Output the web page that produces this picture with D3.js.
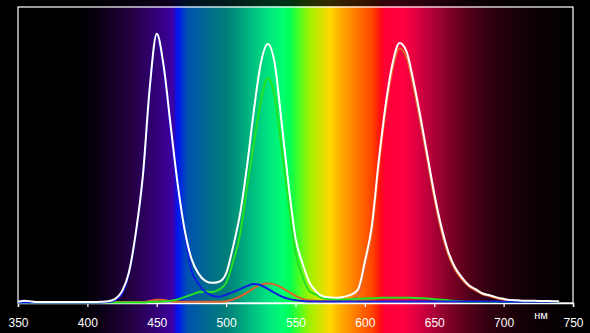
<!DOCTYPE html>
<meta charset="utf-8">
<script src="https://d3js.org/d3.v7.min.js"></script>
<style>
  body { margin: 0; background: #000; }
  svg { display: block; }
</style>
<div id="my_dataviz"></div>
<script>

// wavelength grid (nm)
var wavelengths = [350,355,360,365,370,375,380,385,390,395,400,405,410,415,420,425,430,435,440,445,
  450,455,460,465,470,475,480,485,490,495,500,505,510,515,520,525,530,535,540,545,
  550,555,560,565,570,575,580,585,590,595,600,605,610,615,620,625,630,635,640,645,
  650,655,660,665,670,675,680,685,690,695,700,705,710,715,720,725,730,735,740];

// total (white)
var totalValues = [0.4,0.8,0.5,0.3,0.3,0.3,0.3,0.3,0.3,0.3,0.3,0.3,0.4,0.6,1.4,4,10.5,24,43,73,
  91,80,60,40.5,25,15,10,7.5,6.8,7.2,10,19,30,46,65,81,87.5,81,61,40,
  22,13.5,7,3.8,2.2,1.9,1.8,2.1,2.8,4.5,14,26,48,67,81,87.8,85,75,63,50,
  37,26,17.5,12,8.6,6,4.6,3.2,2.6,1.9,1.4,1.0,0.9,0.8,0.8,0.7,0.7,0.6,0.5];

// blue channel
var blueValues = [0.2,0.2,0.2,0.2,0.2,0.2,0.2,0.2,0.2,0.2,0.2,0.2,0.2,0.3,1.0,3.2,10,23.5,42.5,72,
  90.5,79,59,38.5,23.5,11,6.5,3.7,2.5,2.1,2.8,3.7,4.7,5.7,6.4,6.0,4.8,3.4,2.2,1.4,
  0.9,0.7,0.5,0.5,0.5,0.5,0.5,0.5,0.5,0.5,0.5,0.5,0.5,0.5,0.5,0.5,0.5,0.5,0.5,0.5,
  0.5,0.5,0.5,0.5,0.5,0.5,0.5,0.5,0.5,0.5,0.4,0.4,0.4,0.4,0.4,0.4,0.4,0.4,0.4];

// green channel
var greenValues = [0.2,0.2,0.2,0.2,0.2,0.2,0.2,0.2,0.2,0.2,0.2,0.2,0.2,0.2,0.2,0.2,0.2,0.2,0.2,0.3,
  0.4,0.5,0.8,1.2,2.0,2.8,3.6,3.9,3.7,4.6,6.8,14,23,39,54,68,76,70,52,34,
  17,9,4,2.8,1.6,1.3,1.2,1.2,1.3,1.4,1.5,1.6,1.7,1.8,1.8,1.8,1.8,1.7,1.6,1.5,
  1.3,1.1,0.9,0.7,0.5,0.3,0.3,0.3,0.3,0.3,0.3,0.3,0.3,0.3,0.3,0.3,0.3,0.3,0.3];

// red channel
var redValues = [0.3,0.3,0.3,0.3,0.3,0.3,0.3,0.3,0.3,0.3,0.3,0.3,0.3,0.3,0.3,0.3,0.3,0.3,0.3,0.7,
  1.1,1.0,0.6,0.4,0.4,0.4,0.4,0.4,0.4,0.4,0.6,1.2,2.2,3.5,5.0,6.2,6.6,6.3,5.2,3.8,
  2.4,1.4,0.9,0.7,0.6,0.6,0.6,0.8,1.2,2.6,12,24,46,65,79,86,83,73,61,48.5,
  35.5,24.5,16.5,11.2,8.0,5.6,4.2,2.9,2.3,1.6,1.1,0.7,0.5,0.4,0.4,0.4,0.4,0.4,0.4];

var tickValues = [350,400,450,500,550,600,650,700,750];
var unitLabel = "нм";

// background spectrum stops
var spectrumNm = [395,409,423,433,445,457,462,464,465.5,472,486,501,515,529,541,546,553,560,570,575,
  582,594,606,611,614.5,627.5,637.5,649,661,676,690,710,728,748];
var spectrumColor = ["#000000","#0a0015","#1a0030","#250045","#2f006a","#3a0090","#3c00a8","#1010e0","#0018f0","#0050b0",
  "#006a90","#008078","#00b080","#00e080","#00ff70","#00ff50","#50ff20","#a0f000","#e0e000","#ffd800",
  "#ffb000","#ff7800","#ff4000","#ff1010","#ff0038","#ff0040","#e00040","#b00038","#800028","#500018",
  "#300010","#180008","#0a0004","#000000"];

var W = 590, H = 333;

var svg = d3.select("#my_dataviz")
  .append("svg")
    .attr("width", W)
    .attr("height", H);

var x = d3.scaleLinear().domain([350, 750]).range([18, 573]);
var y = d3.scaleLinear().domain([0, 100]).range([303, 7]);

// spectrum gradient
var grad = svg.append("defs").append("linearGradient")
  .attr("id", "spec")
  .attr("gradientUnits", "userSpaceOnUse")
  .attr("x1", x(350)).attr("x2", x(750))
  .attr("y1", 0).attr("y2", 0);
grad.selectAll("stop")
  .data(spectrumNm)
  .enter().append("stop")
    .attr("offset", function(d) { return (d - 350) / 400; })
    .attr("stop-color", function(d, i) { return spectrumColor[i]; });

svg.append("rect").attr("width", W).attr("height", H).attr("fill", "#000");
svg.append("rect")
  .attr("x", x(350)).attr("y", 0)
  .attr("width", x(750) - x(350)).attr("height", H)
  .attr("fill", "url(#spec)");
// dim strip above the frame
svg.append("rect").attr("width", W).attr("height", y(100) - 0.5)
  .attr("fill", "#000").attr("opacity", 0.8);

// frame
svg.append("rect")
  .attr("x", x(350)).attr("y", y(100))
  .attr("width", x(750) - x(350)).attr("height", y(0) - y(100))
  .attr("fill", "none")
  .attr("stroke", "#fff")
  .attr("stroke-width", 1.2);

// x axis
var xAxis = d3.axisBottom(x).tickValues(tickValues).tickSize(4).tickPadding(11).tickFormat(d3.format("d"));
var gx = svg.append("g")
  .attr("transform", "translate(0," + y(0) + ")")
  .call(xAxis);
gx.select(".domain").attr("stroke", "#fff").attr("stroke-width", 1.5);
gx.selectAll(".tick line").attr("stroke", "#fff").attr("stroke-width", 1.2);
gx.selectAll(".tick text")
  .attr("fill", "#fff")
  .style("font-family", "'Liberation Sans', Arial, sans-serif")
  .style("font-size", "12px");

svg.append("text")
  .attr("x", x(727))
  .attr("y", 318.5)
  .attr("text-anchor", "middle")
  .attr("fill", "#fff")
  .style("font-family", "'Liberation Sans', Arial, sans-serif")
  .style("font-size", "11px")
  .text(unitLabel);

// curves
var series = [
  {name: "red",   values: redValues,   color: "#e0622a"},
  {name: "green", values: greenValues, color: "#22e022"},
  {name: "blue",  values: blueValues,  color: "#1020e0"},
  {name: "total", values: totalValues, color: "#ffffff"}
];

var line = d3.line()
  .x(function(d, i) { return x(wavelengths[i]); })
  .y(function(d) { return y(d); })
  .curve(d3.curveMonotoneX);

svg.selectAll("myLines")
  .data(series)
  .enter()
  .append("path")
    .attr("class", function(d) { return d.name; })
    .attr("d", function(d) { return line(d.values); })
    .attr("stroke", function(d) { return d.color; })
    .style("stroke-width", 2)
    .style("stroke-linejoin", "round")
    .style("fill", "none");

</script>
